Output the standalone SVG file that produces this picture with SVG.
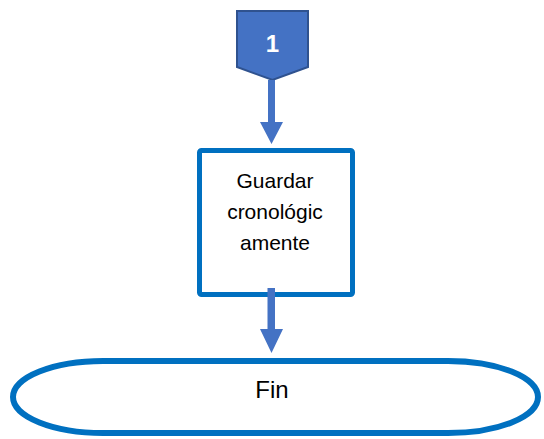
<svg xmlns="http://www.w3.org/2000/svg" width="544" height="439" viewBox="0 0 544 439">
  <style>
    .lbl { font-family: "Liberation Sans", Arial, sans-serif; fill: #000; text-anchor: middle; }
    .conn { fill: #4472C4; stroke: none; }
  </style>
  <rect width="544" height="439" fill="#fff"/>

  <!-- off-page connector "1" -->
  <g id="connector-1">
    <path d="M237,11 H308 V67 L272.5,80 L237,67 Z" fill="#4472C4" stroke="#2F528F" stroke-width="2"/>
    <text x="272.5" y="52" class="lbl" style="fill:#fff;font-weight:bold;font-size:24px">1</text>
  </g>

  <!-- process box -->
  <g id="guardar">
    <rect x="199.5" y="150.5" width="153" height="144" rx="2" fill="#fff" stroke="#0070C0" stroke-width="5"/>
    <text class="lbl" style="font-size:21px"><tspan x="275" y="188">Guardar</tspan><tspan x="275" y="219">cronológic</tspan><tspan x="275" y="250">amente</tspan></text>
  </g>

  <!-- terminator -->
  <g id="fin">
    <rect x="13" y="361" width="525" height="72" rx="90" ry="36" fill="#fff" stroke="#0070C0" stroke-width="6"/>
    <text x="272" y="398" class="lbl" style="font-size:24px">Fin</text>
  </g>

  <!-- connectors -->
  <g id="connectors">
    <path class="conn" d="M268,80 H275 V122 H283 L271.5,144 L260,122 H268 Z"/>
    <path class="conn" d="M267.5,288 H275 V329 H283 L271.5,353 L260,329 H267.5 Z"/>
  </g>
</svg>
